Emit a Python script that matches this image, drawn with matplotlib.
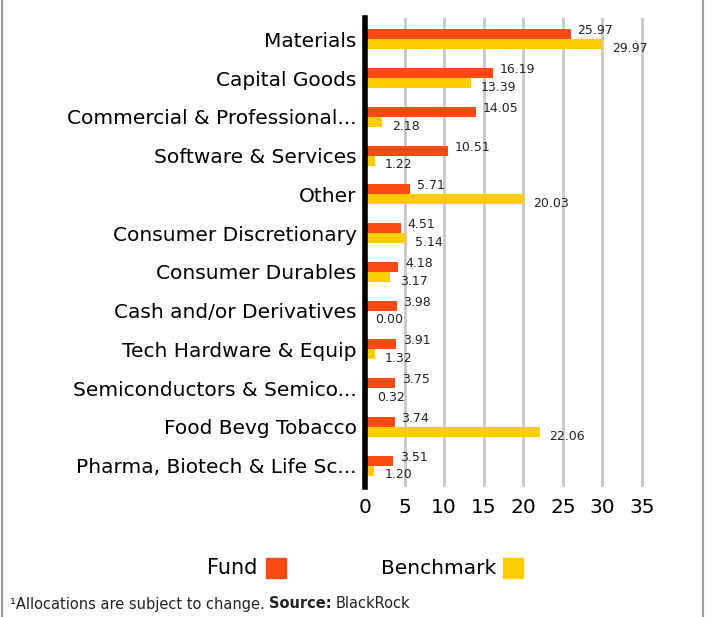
import matplotlib
matplotlib.use("Agg")
import matplotlib.pyplot as plt
import numpy as np
from matplotlib.patches import Rectangle

categories = ["Materials", "Capital Goods", "Commercial & Professional...",
              "Software & Services", "Other", "Consumer Discretionary",
              "Consumer Durables", "Cash and/or Derivatives",
              "Tech Hardware & Equip", "Semiconductors & Semico...",
              "Food Bevg Tobacco", "Pharma, Biotech & Life Sc..."]
fund = [25.97, 16.19, 14.05, 10.51, 5.71, 4.51, 4.18, 3.98, 3.91, 3.75, 3.74, 3.51]
benchmark = [29.97, 13.39, 2.18, 1.22, 20.03, 5.14, 3.17, 0.00, 1.32, 0.32, 22.06, 1.20]
xticks = [0, 5, 10, 15, 20, 25, 30, 35]

RED = "#FC4A14"
YEL = "#FFCC00"
FONT = "DejaVu Sans"

fig = plt.figure(figsize=(7.18, 6.17), dpi=100)
ax = fig.add_axes([365/718, 1-487/617, (646-365)/718, (487-18)/617])

n = len(categories)
y = np.arange(n)
h = 0.26
ax.barh(y - h/2, fund, height=h, color=RED, zorder=3)
ax.barh(y + h/2, benchmark, height=h, color=YEL, zorder=3)

for i in range(n):
    ax.annotate(f"{fund[i]:.2f}", (fund[i], y[i] - h/2), xytext=(5, 2.5),
                textcoords="offset points", ha="left", va="center",
                fontsize=9, color="#222222", family=FONT, zorder=4)
    ax.annotate(f"{benchmark[i]:.2f}", (benchmark[i], y[i] + h/2), xytext=(7, -3),
                textcoords="offset points", ha="left", va="center",
                fontsize=9, color="#222222", family=FONT, zorder=4)

ax.set_ylim(n - 0.45, -0.55)
ax.set_xlim(0, 35.5)
ax.set_xticks(xticks)
ax.set_xticklabels([str(t) for t in xticks], fontsize=14.5, family=FONT)
ax.set_yticks(y)
ax.set_yticklabels(categories, fontsize=14.5, family=FONT)
ax.tick_params(axis="both", length=0, pad=6)
ax.tick_params(axis="x", pad=8)
ax.grid(axis="x", color="#C8C8C8", linewidth=2, zorder=0)
for s in ["top", "right", "bottom"]:
    ax.spines[s].set_visible(False)
ax.spines["left"].set_linewidth(4)
ax.spines["left"].set_color("black")
ax.spines["left"].set_zorder(5)

# legend
fig.text(257/718, 1-568/617, "Fund", ha="right", va="center", fontsize=15, family=FONT)
fig.patches.append(Rectangle((266/718, 1-578/617), 20/718, 20/617, color=RED,
                             transform=fig.transFigure, figure=fig))
fig.text(496/718, 1-568/617, "Benchmark", ha="right", va="center", fontsize=14.5, family=FONT)
fig.patches.append(Rectangle((503/718, 1-578/617), 20/718, 20/617, color=YEL,
                             transform=fig.transFigure, figure=fig))

# footnote
fig.canvas.draw()
r = fig.canvas.get_renderer()
x0 = 10/718
yf = 1-604/617
parts = [("\u00b9Allocations are subject to change.", "normal", 4),
         ("Source:", "bold", 4), ("BlackRock", "normal", 0)]
for txt, wt, gap in parts:
    t = fig.text(x0, yf, txt, ha="left", va="center", fontsize=10.5, family=FONT,
                 weight=wt, color="#222222")
    bb = t.get_window_extent(renderer=r)
    x0 += (bb.width + gap) / fig.bbox.width

# frame lines (left and right)
fig.add_artist(plt.Line2D([2/718, 2/718], [0, 1], color="#999999", lw=1.5,
                          transform=fig.transFigure))
fig.add_artist(plt.Line2D([703/718, 703/718], [0, 1], color="#999999", lw=1.5,
                          transform=fig.transFigure))

fig.savefig("out.png", dpi=100)
